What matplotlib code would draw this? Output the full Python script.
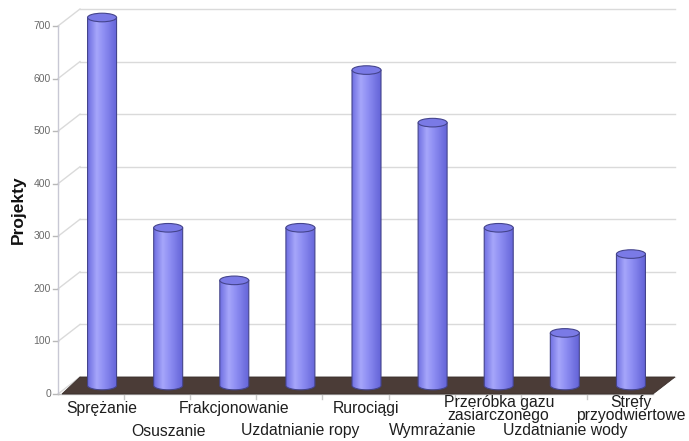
import numpy as np
import matplotlib
matplotlib.use("Agg")
import matplotlib.pyplot as plt
from matplotlib.patches import Polygon, Ellipse, PathPatch
from matplotlib.path import Path
from matplotlib.colors import LinearSegmentedColormap

categories = ["Sprężanie", "Osuszanie", "Frakcjonowanie", "Uzdatnianie ropy",
              "Rurociągi", "Wymrażanie", "Przeróbka gazu\nzasiarczonego",
              "Uzdatnianie wody", "Strefy\nprzyodwiertowe"]
values = [700, 300, 200, 300, 600, 500, 300, 100, 250]
y_ticks = [0, 100, 200, 300, 400, 500, 600, 700]
y_label = "Projekty"

plt.rcParams["font.family"] = ["Liberation Sans", "DejaVu Sans"]

W, H, DPI = 689, 441, 100
fig = plt.figure(figsize=(W / DPI, H / DPI), dpi=DPI)
fig.patch.set_facecolor("white")

# front plane of the 3-D box, in pixels
x0_px, x1_px, y0_px, y1_px = 58, 653, 394, 26
ax = fig.add_axes([x0_px / W, 1 - y0_px / H, (x1_px - x0_px) / W, (y0_px - y1_px) / H])
n = len(categories)
ax.set_xlim(-0.5, n - 0.5)
ax.set_ylim(0, 700)
ax.axis("off")

px_x = (x1_px - x0_px) / n          # pixels per category
px_y = (y0_px - y1_px) / 700.0      # pixels per value unit
depth_dx = 22 / px_x                # depth offset in data units
depth_dy = 17 / px_y

grid_col = "#dadada"
# back wall gridlines and the diagonal ties to the front axis
for v in y_ticks:
    ax.plot([-0.5 + depth_dx, n - 0.5 + depth_dx], [v + depth_dy, v + depth_dy],
            color=grid_col, lw=1.0, clip_on=False, zorder=1)
    ax.plot([-0.5, -0.5 + depth_dx], [v, v + depth_dy],
            color=grid_col, lw=1.0, clip_on=False, zorder=1)
    ax.plot([-0.5 - 5 / px_x, -0.5], [v, v], color="#b8b8b8", lw=1.0,
            clip_on=False, zorder=2)
    ax.text(-0.5 - 7 / px_x, v, str(v), ha="right", va="center",
            fontsize=7.5, color="#6a6a6a", clip_on=False)

# front value axis
ax.plot([-0.5, -0.5], [0, 700], color="#c8c8d4", lw=1.0, clip_on=False, zorder=2)

# floor
floor = Polygon([(-0.5 + 4 / px_x, 0), (n - 0.5, 0),
                 (n - 0.5 + depth_dx, depth_dy), (-0.5 + depth_dx, depth_dy)],
                closed=True, facecolor="#4b3c37", edgecolor="#3a2e2a",
                lw=0.6, zorder=3, clip_on=False)
ax.add_patch(floor)
ax.plot([-0.5, n - 0.5], [0, 0], color="#c0c0c0", lw=1.0, clip_on=False, zorder=2)
for k in range(1, n):
    ax.plot([k - 0.5, k - 0.5], [0, -5 / px_y], color="#c8c8c8", lw=1.0,
            clip_on=False, zorder=2)

# cylinders
cmap = LinearSegmentedColormap.from_list(
    "cyl", [(0.0, "#7070e2"), (0.3, "#a6a6fa"), (0.55, "#8e8ef3"), (1.0, "#6464d8")])
grad = np.linspace(0, 1, 64)[None, :]
half_w = 14.5 / px_x
ell_h = 4.3 / px_y
base = depth_dy / 2
for i, v in enumerate(values):
    cx = i + depth_dx / 2
    top = v + base
    t = np.linspace(0, np.pi, 40)
    pts = [(cx - half_w, top), (cx + half_w, top)]
    pts += list(zip(cx + half_w * np.cos(t), base - ell_h * np.sin(t)))
    pts.append((cx - half_w, top))
    path = Path(pts, closed=False)
    body = PathPatch(path, facecolor="none", edgecolor="none", transform=ax.transData)
    ax.add_patch(body)
    im = ax.imshow(grad, cmap=cmap, extent=[cx - half_w, cx + half_w, base - ell_h, top],
                   aspect="auto", zorder=4, interpolation="bilinear")
    im.set_clip_box(fig.bbox)
    im.set_clip_path(body)
    outline = PathPatch(path, facecolor="none", edgecolor="#44448c", lw=0.8,
                        zorder=5, clip_on=False)
    ax.add_patch(outline)
    cap = Ellipse((cx, top), 2 * half_w, 2 * ell_h, facecolor="#7a7ae6",
                  edgecolor="#44448c", lw=0.8, zorder=6, clip_on=False)
    ax.add_patch(cap)

ax.set_xlim(-0.5, n - 0.5)
ax.set_ylim(0, 700)

# category labels on two staggered rows
row1 = (y0_px - 409) / px_y
row2 = (y0_px - 431) / px_y
for i, lab in enumerate(categories):
    cx = i + depth_dx / 2
    yy = row1 if i % 2 == 0 else row2
    ax.text(cx, yy, lab, ha="center", va="center", fontsize=11.3, color="#1e1e1e",
            linespacing=0.9, clip_on=False)

fig.text(18 / W, 1 - 210 / H, y_label, rotation=90, ha="center", va="center",
         fontsize=12.5, fontweight="bold", color="#111111")

fig.savefig("out.png", dpi=DPI, facecolor="white")
